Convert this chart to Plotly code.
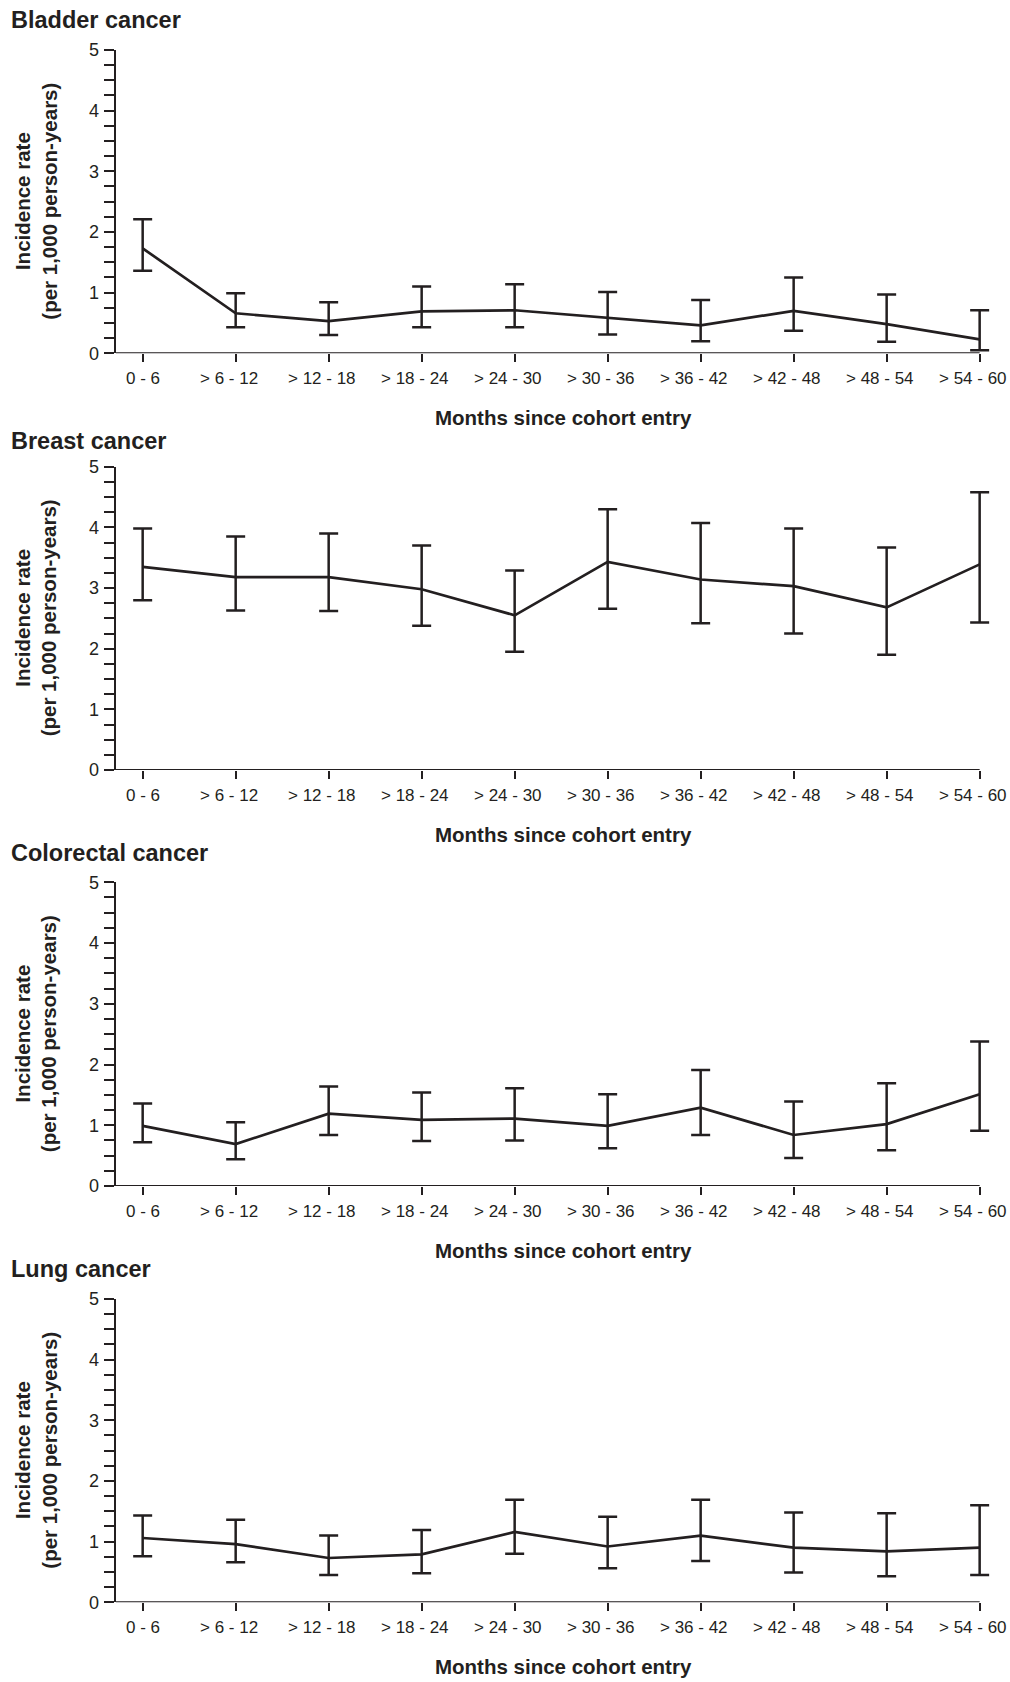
import plotly.graph_objects as go

# ---------------- data ----------------
categories = ["0 - 6", "> 6 - 12", "> 12 - 18", "> 18 - 24", "> 24 - 30",
              "> 30 - 36", "> 36 - 42", "> 42 - 48", "> 48 - 54", "> 54 - 60"]

panel_titles = ["Bladder cancer", "Breast cancer", "Colorectal cancer", "Lung cancer"]

bladder_rate = [1.73, 0.66, 0.53, 0.69, 0.71, 0.58, 0.46, 0.70, 0.48, 0.23]
bladder_upper = [2.21, 0.99, 0.84, 1.10, 1.14, 1.01, 0.88, 1.25, 0.97, 0.71]
bladder_lower = [1.36, 0.43, 0.30, 0.43, 0.43, 0.31, 0.20, 0.37, 0.19, 0.05]

breast_rate = [3.35, 3.18, 3.18, 2.98, 2.55, 3.43, 3.14, 3.03, 2.68, 3.39]
breast_upper = [3.98, 3.85, 3.90, 3.70, 3.29, 4.30, 4.07, 3.98, 3.67, 4.58]
breast_lower = [2.80, 2.63, 2.62, 2.38, 1.95, 2.66, 2.42, 2.25, 1.90, 2.43]

colorectal_rate = [0.99, 0.69, 1.19, 1.09, 1.11, 0.99, 1.29, 0.84, 1.02, 1.51]
colorectal_upper = [1.36, 1.05, 1.64, 1.54, 1.61, 1.51, 1.91, 1.39, 1.69, 2.38]
colorectal_lower = [0.72, 0.44, 0.84, 0.74, 0.75, 0.62, 0.84, 0.46, 0.59, 0.91]

lung_rate = [1.06, 0.96, 0.73, 0.79, 1.16, 0.92, 1.10, 0.90, 0.84, 0.90]
lung_upper = [1.43, 1.36, 1.10, 1.19, 1.69, 1.41, 1.69, 1.48, 1.47, 1.60]
lung_lower = [0.76, 0.66, 0.45, 0.48, 0.80, 0.56, 0.68, 0.49, 0.43, 0.45]

y_tick_vals = [0, 1, 2, 3, 4, 5]
y_title = "Incidence rate<br>(per 1,000 person-years)"
x_title = "Months since cohort entry"

series = [
    (bladder_rate, bladder_upper, bladder_lower),
    (breast_rate, breast_upper, breast_lower),
    (colorectal_rate, colorectal_upper, colorectal_lower),
    (lung_rate, lung_upper, lung_lower),
]

# ---------------- layout constants (pixels) ----------------
W, H = 1010, 1682
INK = "#231f20"
FONT = "Liberation Sans, Arial, sans-serif"
x_left_px, x_right_px = 115.7, 993.6
x_range = [-0.29, 9.15]
panel_top_px = [50.0, 466.7, 882.3, 1299.0]
panel_bot_px = [353.3, 770.0, 1186.0, 1602.3]
title_mid_px = [20.5, 441.0, 853.0, 1268.5]
TICK_FONT_SIZE = 17
GT_SHIFT = -7      # labels starting with "> " are centred on their range part

def py(px):
    return 1 - px / H

def pxx(px):
    return px / W

fig = go.Figure()
annotations = []
shapes = []

for i, (rate, up, lo) in enumerate(series):
    n = i + 1
    xa = "x" if n == 1 else f"x{n}"
    ya = "y" if n == 1 else f"y{n}"
    fig.add_trace(go.Scatter(
        x=categories, y=rate, mode="lines",
        line=dict(color=INK, width=2.7),
        error_y=dict(type="data", symmetric=False,
                     array=[u - r for u, r in zip(up, rate)],
                     arrayminus=[r - l for r, l in zip(rate, lo)],
                     color=INK, thickness=2.5, width=9.5),
        xaxis=xa, yaxis=ya, showlegend=False, hoverinfo="skip",
    ))
    xkey = "xaxis" if n == 1 else f"xaxis{n}"
    ykey = "yaxis" if n == 1 else f"yaxis{n}"
    fig.update_layout(**{
        xkey: dict(
            domain=[pxx(x_left_px), pxx(x_right_px)], anchor=ya, automargin=False,
            type="category", categoryarray=categories, range=x_range,
            showline=False, showgrid=False, showticklabels=False,
            zeroline=False, ticks="outside", ticklen=8, tickwidth=2, tickcolor=INK,
        ),
        ykey: dict(
            domain=[py(panel_bot_px[i]), py(panel_top_px[i])], anchor=xa, automargin=False,
            range=[0, 5], tickvals=y_tick_vals, showline=True, linewidth=2,
            linecolor=INK, showgrid=False, zeroline=False, ticks="outside",
            ticklen=10, tickwidth=2, tickcolor=INK, ticklabelstandoff=1,
            tickfont=dict(family=FONT, size=18, color=INK),
            minor=dict(dtick=0.25, tick0=0, ticks="outside", ticklen=10,
                       tickwidth=2, tickcolor=INK, showgrid=False),
        ),
    })
    # x axis baseline from y-axis to last category
    shapes.append(dict(type="line", xref=xa, yref=ya, x0=x_range[0], x1=len(categories) - 1,
                       y0=0, y1=0, line=dict(color=INK, width=2), layer="above"))
    # x tick labels (placed on the category axis)
    for c in categories:
        annotations.append(dict(text=c, xref=xa, yref=f"{ya} domain", x=c, y=0,
                                xanchor="center", yanchor="top", yshift=-14,
                                xshift=GT_SHIFT if c.startswith(">") else 0,
                                showarrow=False,
                                font=dict(family=FONT, size=TICK_FONT_SIZE, color=INK)))
    # panel title
    annotations.append(dict(text=f"<b>{panel_titles[i]}</b>", xref="paper", yref="paper",
                            x=pxx(9), y=py(title_mid_px[i]), xanchor="left", yanchor="middle",
                            showarrow=False, font=dict(family=FONT, size=23.5, color=INK)))
    # y title
    annotations.append(dict(text=f"<b>{y_title}</b>", xref="paper", yref="paper",
                            x=pxx(36), y=py((panel_top_px[i] + panel_bot_px[i]) / 2),
                            xanchor="center", yanchor="middle", textangle=-90,
                            showarrow=False, font=dict(family=FONT, size=20.5, color=INK)))
    # x title
    annotations.append(dict(text=f"<b>{x_title}</b>", xref="paper", yref="paper",
                            x=pxx(563), y=py(panel_bot_px[i] + 64), xanchor="center",
                            yanchor="middle", showarrow=False,
                            font=dict(family=FONT, size=20.5, color=INK)))

fig.update_layout(
    template="none",
    width=W, height=H, margin=dict(l=0, r=0, t=0, b=0, pad=0, autoexpand=False),
    paper_bgcolor="white", plot_bgcolor="white",
    annotations=annotations, shapes=shapes,
)

fig.write_html(
    "out.html",
    config={"displayModeBar": False},
    post_script=("document.body.style.margin='0';document.body.style.padding='0';"
                 "document.body.style.overflow='hidden';"
                 "document.documentElement.style.overflow='hidden';"),
)
